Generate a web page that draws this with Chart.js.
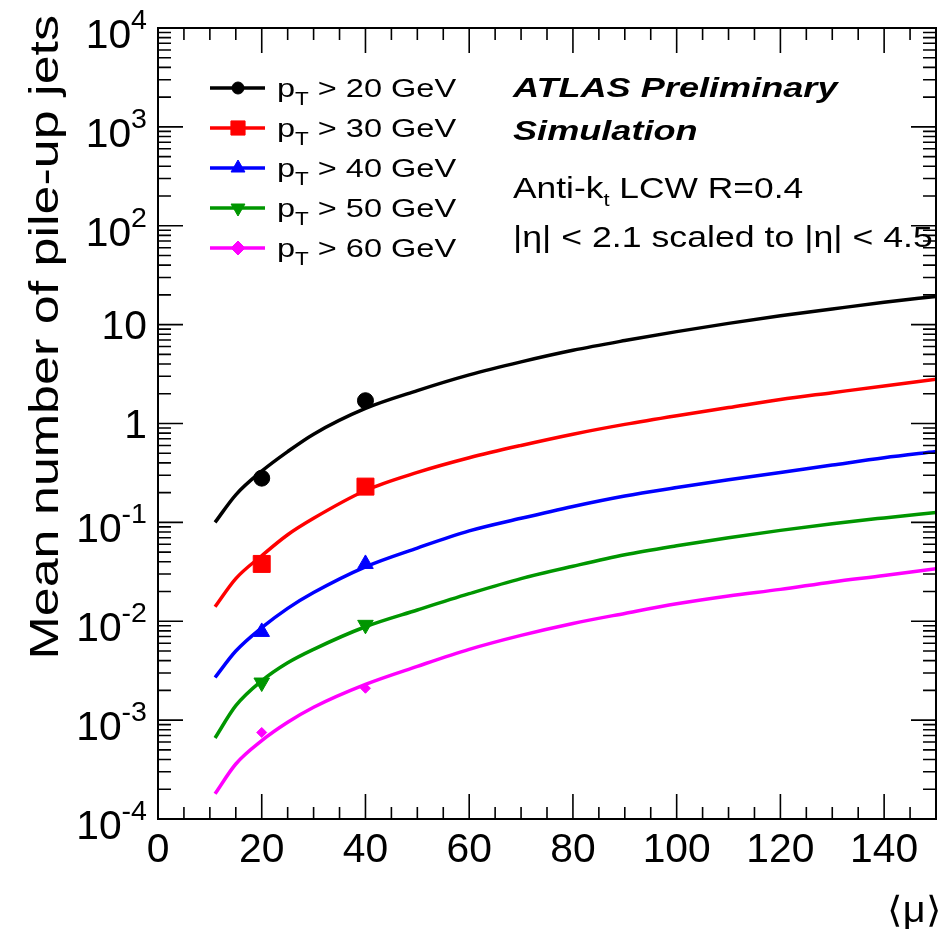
<!DOCTYPE html>
<html><head><meta charset="utf-8">
<script src="https://cdn.jsdelivr.net/npm/chart.js@4.4.1/dist/chart.umd.min.js"></script>
<style>html,body{margin:0;padding:0;background:#fff;}#wrap{width:949px;height:938px;}</style>
</head><body><div id="wrap"><canvas id="c" width="949" height="938"></canvas></div>
<script>
// ---------- data ----------
const muCurve = [11, 15, 20, 25, 30, 40, 50, 60, 70, 80, 90, 100, 110, 120, 130, 140, 150];
const curvePt20 = [0.10, 0.19, 0.33, 0.52, 0.78, 1.42, 2.15, 3.1, 4.2, 5.5, 6.9, 8.5, 10.3, 12.3, 14.4, 16.8, 19.3];
const curvePt30 = [0.014, 0.027, 0.046, 0.075, 0.11, 0.21, 0.32, 0.45, 0.60, 0.78, 0.98, 1.2, 1.45, 1.75, 2.05, 2.4, 2.8];
const curvePt40 = [0.0027, 0.0050, 0.0086, 0.0135, 0.0195, 0.0355, 0.055, 0.082, 0.11, 0.145, 0.185, 0.225, 0.27, 0.32, 0.38, 0.45, 0.52];
const curvePt50 = [0.00066, 0.0014, 0.0025, 0.0038, 0.0052, 0.0088, 0.013, 0.019, 0.027, 0.036, 0.047, 0.058, 0.070, 0.083, 0.097, 0.111, 0.126];
const curvePt60 = [0.00018, 0.00036, 0.00062, 0.00095, 0.00135, 0.0023, 0.0035, 0.0052, 0.0072, 0.0095, 0.012, 0.015, 0.018, 0.021, 0.025, 0.029, 0.034];

const muPoints = [20, 40];
const pointsPt20 = [0.28, 1.7];
const pointsPt30 = [0.038, 0.23];
const pointsPt40 = [0.0078, 0.038];
const pointsPt50 = [0.0024, 0.0092];
const pointsPt60 = [0.00075, 0.0021];

const ptThresholds = ['20', '30', '40', '50', '60'];
const xTickValues = [0, 20, 40, 60, 80, 100, 120, 140];
const xTickLabels = ['0', '20', '40', '60', '80', '100', '120', '140'];
const yTickValues = [1e-4, 1e-3, 1e-2, 1e-1, 1, 10, 100, 1000, 10000];
const yTickLabels = ['10^-4', '10^-3', '10^-2', '10^-1', '1', '10', '10^2', '10^3', '10^4'];
const xTitle = '\u27E8\u03BC\u27E9';
const yTitle = 'Mean number of pile-up jets';
const infoLines = ['ATLAS Preliminary', 'Simulation', 'Anti-k_t LCW R=0.4', '|\u03B7| < 2.1 scaled to |\u03B7| < 4.5'];

// ---------- styles ----------
const colors = ['#000000', '#ff0000', '#0000ff', '#009600', '#ff00ff'];
const styles = [
  {pointStyle: 'circle', rotation: 0, radius: 8, legendRadius: 6},
  {pointStyle: 'rect', rotation: 0, radius: 12, legendRadius: 10},
  {pointStyle: 'triangle', rotation: 0, radius: 9, legendRadius: 8},
  {pointStyle: 'triangle', rotation: 180, radius: 9, legendRadius: 8},
  {pointStyle: 'rectRot', rotation: 0, radius: 5, legendRadius: 7}
];
const curveSets = [curvePt20, curvePt30, curvePt40, curvePt50, curvePt60];
const pointSets = [pointsPt20, pointsPt30, pointsPt40, pointsPt50, pointsPt60];

const datasets = [];
curveSets.forEach((arr, i) => {
  datasets.push({
    type: 'line', label: 'pT > ' + ptThresholds[i] + ' GeV (curve)',
    data: muCurve.map((m, k) => ({x: m, y: arr[k]})),
    borderColor: colors[i], borderWidth: 3.5, pointRadius: 0, fill: false,
    cubicInterpolationMode: 'monotone', order: 2
  });
});
pointSets.forEach((arr, i) => {
  datasets.push({
    type: 'scatter', label: 'pT > ' + ptThresholds[i] + ' GeV',
    data: muPoints.map((m, k) => ({x: m, y: arr[k]})),
    backgroundColor: colors[i], borderColor: colors[i], borderWidth: 1,
    pointStyle: styles[i].pointStyle, rotation: styles[i].rotation,
    pointRadius: styles[i].radius, showLine: false, order: 1
  });
});

// ---------- helpers ----------
const FONT = '"Liberation Sans", Arial, Helvetica, sans-serif';
function font(size, style) { return (style || '') + ' ' + size + 'px ' + FONT; }
function drawRuns(ctx, runs, x, y, sx) {
  ctx.save();
  ctx.translate(x, y);
  ctx.scale(sx, 1);
  ctx.textAlign = 'left';
  ctx.textBaseline = 'alphabetic';
  let cx = 0;
  runs.forEach(r => {
    ctx.font = font(r.size, r.style);
    ctx.fillText(r.t, cx, r.dy || 0);
    cx += ctx.measureText(r.t).width;
  });
  ctx.restore();
  return cx * sx;
}
function runsWidth(ctx, runs) {
  let w = 0;
  runs.forEach(r => { ctx.font = font(r.size, r.style); w += ctx.measureText(r.t).width; });
  return w;
}
function drawMarker(ctx, st, color, x, y) {
  ctx.save();
  ctx.fillStyle = color; ctx.strokeStyle = color; ctx.lineWidth = 1;
  if (Chart.helpers && Chart.helpers.drawPoint) {
    Chart.helpers.drawPoint(ctx, {pointStyle: st.pointStyle, rotation: st.rotation, radius: st.legendRadius, borderWidth: 1}, x, y);
  }
  ctx.restore();
}

const rootPlugin = {
  id: 'rootStyle',
  afterDraw(chart) {
    const ctx = chart.ctx;
    const {left, right, top, bottom} = chart.chartArea;
    const xs = chart.scales.x, ys = chart.scales.y;
    ctx.save();
    ctx.fillStyle = '#000';
    ctx.strokeStyle = '#000';
    ctx.lineWidth = 2;
    ctx.strokeRect(left, top, right - left, bottom - top);
    ctx.lineWidth = 1.6;
    ctx.beginPath();
    for (let v = 0; v <= 150; v += 5) {
      const px = xs.getPixelForValue(v);
      const L = (v % 20 === 0) ? 25 : 12;
      ctx.moveTo(px, bottom); ctx.lineTo(px, bottom - L);
      ctx.moveTo(px, top); ctx.lineTo(px, top + L);
    }
    for (let d = -4; d <= 3; d++) {
      for (let m = 1; m <= 9; m++) {
        const v = m * Math.pow(10, d);
        const py = ys.getPixelForValue(v);
        const L = (m === 1) ? 25 : 13;
        ctx.moveTo(left, py); ctx.lineTo(left + L, py);
        ctx.moveTo(right, py); ctx.lineTo(right - L, py);
      }
    }
    ctx.stroke();

    const tickSize = 40, sxT = 1.02;
    xTickValues.forEach((v, i) => {
      const px = xs.getPixelForValue(v);
      const runs = [{t: xTickLabels[i], size: tickSize}];
      const w = runsWidth(ctx, runs) * sxT;
      drawRuns(ctx, runs, px - w / 2, bottom + 43, sxT);
    });
    const xRight = left - 11;
    yTickValues.forEach((v, i) => {
      const py = ys.getPixelForValue(v);
      const lab = yTickLabels[i];
      const parts = lab.split('^');
      if (parts.length === 2) {
        const eRuns = [{t: parts[1], size: 28}];
        const bRuns = [{t: parts[0], size: tickSize}];
        const ew = runsWidth(ctx, eRuns) * sxT;
        const bw = runsWidth(ctx, bRuns) * sxT;
        drawRuns(ctx, eRuns, xRight - ew, py + 1, sxT);
        drawRuns(ctx, bRuns, xRight - ew - bw, py + 20, sxT);
      } else {
        const bRuns = [{t: lab, size: tickSize}];
        const bw = runsWidth(ctx, bRuns) * sxT;
        drawRuns(ctx, bRuns, xRight - bw, py + 14, sxT);
      }
    });
    {
      const runs = [{t: xTitle, size: 36}];
      const w = runsWidth(ctx, runs) * 1.1;
      drawRuns(ctx, runs, 941 - w, 922, 1.1);
    }
    {
      ctx.save();
      ctx.translate(58, 15);
      ctx.rotate(-Math.PI / 2);
      const runs = [{t: yTitle, size: 40}];
      const w = runsWidth(ctx, runs) * 1.3;
      drawRuns(ctx, runs, -w, 0, 1.3);
      ctx.restore();
    }
    const rowY = [88, 128, 168, 208, 248];
    ptThresholds.forEach((t, i) => {
      const y = rowY[i];
      ctx.save();
      ctx.strokeStyle = colors[i]; ctx.lineWidth = 3.5;
      ctx.beginPath(); ctx.moveTo(210, y); ctx.lineTo(265, y); ctx.stroke();
      ctx.restore();
      drawMarker(ctx, styles[i], colors[i], 238, y);
      ctx.fillStyle = '#000';
      drawRuns(ctx, [{t: 'p', size: 26}, {t: 'T', size: 18, dy: 8}, {t: ' > ' + t + ' GeV', size: 26}], 277, y + 9, 1.25);
    });
    ctx.fillStyle = '#000';
    drawRuns(ctx, [{t: infoLines[0], size: 28, style: 'italic bold'}], 513, 97, 1.29);
    drawRuns(ctx, [{t: infoLines[1], size: 28, style: 'italic bold'}], 513, 140, 1.29);
    const ak = infoLines[2].split('_');
    drawRuns(ctx, [{t: ak[0], size: 29}, {t: ak[1].charAt(0), size: 18, dy: 8}, {t: ak[1].slice(1), size: 29}], 513, 198, 1.22);
    drawRuns(ctx, [{t: infoLines[3], size: 29}], 513, 247, 1.23);
    ctx.restore();
  }
};

new Chart(document.getElementById('c').getContext('2d'), {
  type: 'line',
  data: {datasets},
  options: {
    responsive: false, animation: false, devicePixelRatio: 1,
    layout: {padding: {left: 158, top: 28, right: 2, bottom: 119}},
    plugins: {legend: {display: false}, tooltip: {enabled: false}},
    scales: {
      x: {type: 'linear', min: 0, max: 150, display: false},
      y: {type: 'logarithmic', min: 1e-4, max: 1e4, display: false}
    }
  },
  plugins: [rootPlugin]
});
</script></body></html>
